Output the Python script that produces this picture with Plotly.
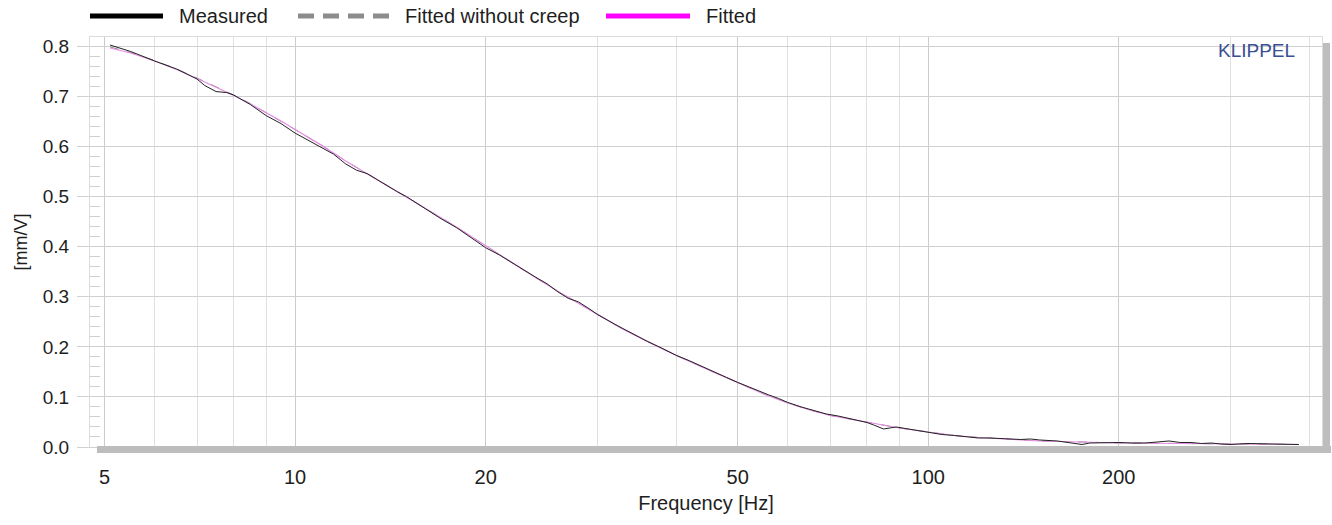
import plotly.graph_objects as go

# ---- data ----
freq_fit = [5.1, 5.5, 6, 6.5, 7, 7.5, 8, 8.5, 9, 9.5, 10, 11, 12, 13, 14, 15, 16, 17, 18, 19,
            20, 22, 24, 26, 28, 30, 33, 36, 40, 45, 50, 55, 60, 65, 70, 75, 80, 90, 100, 110,
            120, 135, 150, 175, 200, 250, 300, 350, 385]
fitted = [0.797, 0.787, 0.771, 0.754, 0.736, 0.719, 0.702, 0.685, 0.668, 0.651, 0.634, 0.603,
          0.572, 0.546, 0.522, 0.500, 0.479, 0.458, 0.439, 0.420, 0.401, 0.368, 0.338, 0.311,
          0.287, 0.265, 0.235, 0.211, 0.183, 0.154, 0.128, 0.106, 0.088, 0.074, 0.063, 0.056,
          0.049, 0.038, 0.030, 0.023, 0.019, 0.015, 0.012, 0.010, 0.008, 0.007, 0.006, 0.005,
          0.005]
fitted_no_creep = [0.799, 0.788, 0.772, 0.755, 0.737, 0.720, 0.703, 0.686, 0.668, 0.651, 0.634,
                   0.603, 0.572, 0.546, 0.522, 0.500, 0.479, 0.458, 0.439, 0.420, 0.401, 0.368,
                   0.338, 0.311, 0.287, 0.265, 0.235, 0.211, 0.183, 0.154, 0.128, 0.106, 0.088,
                   0.074, 0.063, 0.056, 0.049, 0.038, 0.030, 0.023, 0.019, 0.015, 0.012, 0.010,
                   0.008, 0.007, 0.006, 0.005, 0.005]

freq_meas = [5.1, 5.5, 6, 6.5, 7, 7.2, 7.5, 7.8, 8, 8.5, 9, 9.5, 10, 10.5, 11, 11.5, 12, 12.5, 13,
             13.5, 14, 14.5, 15, 16, 17, 18, 19, 20, 21, 22, 23, 24, 25, 26, 27, 28, 29, 30, 32,
             34, 36, 38, 40, 42, 44, 46, 48, 50, 52, 54, 56, 58, 60, 63, 66, 69, 72, 75, 78, 80,
             82, 85, 87, 89, 92, 95, 98, 100, 105, 110, 115, 120, 125, 130, 135, 140, 145, 150,
             160, 170, 175, 180, 190, 200, 210, 220, 230, 240, 250, 260, 270, 280, 290, 300, 320,
             340, 360, 385]
measured = [0.803, 0.790, 0.771, 0.755, 0.735, 0.722, 0.710, 0.708, 0.703, 0.684, 0.662, 0.646,
            0.627, 0.612, 0.598, 0.585, 0.566, 0.553, 0.546, 0.533, 0.522, 0.510, 0.500, 0.477,
            0.456, 0.438, 0.418, 0.398, 0.384, 0.368, 0.352, 0.339, 0.326, 0.310, 0.297, 0.290,
            0.278, 0.265, 0.245, 0.227, 0.211, 0.197, 0.183, 0.172, 0.160, 0.149, 0.139, 0.129,
            0.120, 0.111, 0.104, 0.097, 0.089, 0.080, 0.073, 0.066, 0.062, 0.057, 0.052, 0.049,
            0.044, 0.036, 0.038, 0.040, 0.037, 0.034, 0.031, 0.029, 0.025, 0.023, 0.020, 0.018,
            0.018, 0.017, 0.016, 0.015, 0.016, 0.014, 0.012, 0.008, 0.005, 0.008, 0.009, 0.009,
            0.008, 0.008, 0.010, 0.012, 0.009, 0.009, 0.007, 0.008, 0.006, 0.005, 0.007, 0.006,
            0.006, 0.005]

x_tickvals = [5, 10, 20, 50, 100, 200]
x_ticktext = ["5", "10", "20", "50", "100", "200"]
x_minor_vals = [6, 7, 8, 9, 30, 40, 60, 70, 80, 90, 300, 400]
y_tickvals = [0.0, 0.1, 0.2, 0.3, 0.4, 0.5, 0.6, 0.7, 0.8]
y_ticktext = ["0.0", "0.1", "0.2", "0.3", "0.4", "0.5", "0.6", "0.7", "0.8"]

legend_names = ["Measured", "Fitted without creep", "Fitted"]

FONT = "Liberation Sans, Arial, sans-serif"
TXT = "#1e1e1e"

fig = go.Figure()
fig.add_trace(go.Scatter(x=freq_fit, y=fitted_no_creep, mode="lines", name=legend_names[1],
                         line=dict(color="#8a8a8a", width=1, dash="dash"), showlegend=False))
fig.add_trace(go.Scatter(x=freq_fit, y=fitted, mode="lines", name=legend_names[2],
                         line=dict(color="#e58be5", width=1.2), showlegend=False))
fig.add_trace(go.Scatter(x=freq_meas, y=measured, mode="lines", name=legend_names[0],
                         line=dict(color="#222222", width=1), showlegend=False))

W, H = 1332, 525
ML, MR, MT, MB = 90, 10, 37, 78
pw = W - ML - MR
ph = H - MT - MB

def px(x):
    return (x - ML) / pw

def py(y):
    return (H - MB - y) / ph

shapes = []
annotations = []
# manual legend
leg_y = py(16)
shapes.append(dict(type="line", xref="paper", yref="paper", x0=px(90), x1=px(163),
                   y0=leg_y, y1=leg_y, line=dict(color="#000000", width=5)))
shapes.append(dict(type="line", xref="paper", yref="paper", x0=px(298), x1=px(390),
                   y0=leg_y, y1=leg_y, line=dict(color="#8c8c8c", width=5, dash="16px,9px")))
shapes.append(dict(type="line", xref="paper", yref="paper", x0=px(606), x1=px(690),
                   y0=leg_y, y1=leg_y, line=dict(color="#ff00ff", width=5)))
for name, xs in zip(legend_names, [177, 403, 704]):
    annotations.append(dict(text=name, xref="paper", yref="paper", x=px(xs), y=leg_y,
                            xanchor="left", yanchor="middle", showarrow=False,
                            font=dict(family=FONT, size=20, color=TXT)))
# gray frame bars (bottom and right)
shapes.append(dict(type="line", xref="paper", yref="paper", x0=px(97), x1=px(1331),
                   y0=py(449.5), y1=py(449.5), line=dict(color="#bdbdbd", width=7)))
shapes.append(dict(type="line", xref="paper", yref="paper", x0=px(1326.5), x1=px(1326.5),
                   y0=py(452), y1=py(43), line=dict(color="#bdbdbd", width=7)))
annotations.append(dict(text="KLIPPEL", xref="paper", yref="paper", x=px(1297), y=py(50),
                        xanchor="right", yanchor="middle", showarrow=False,
                        font=dict(family=FONT, size=19, color="#3b4f93")))

fig.update_layout(
    width=W, height=H,
    margin=dict(l=ML, r=MR, t=MT, b=MB),
    paper_bgcolor="white", plot_bgcolor="white",
    font=dict(family=FONT, size=19, color=TXT),
    shapes=shapes, annotations=annotations,
    showlegend=False,
)
fig.update_xaxes(
    type="log", range=[0.676, 2.622],
    tickvals=x_tickvals, ticktext=x_ticktext,
    showgrid=True, gridcolor="#cccccc", gridwidth=1,
    ticks="", ticklabelstandoff=12,
    minor=dict(tickvals=x_minor_vals, showgrid=True, gridcolor="#e0e0e0", gridwidth=1, ticks=""),
    showline=True, linecolor="#dcdcdc", linewidth=1, mirror=True,
    zeroline=False,
    title=dict(text="Frequency [Hz]", font=dict(family=FONT, size=20, color=TXT), standoff=8),
    tickfont=dict(family=FONT, size=20, color=TXT),
)
fig.update_yaxes(
    range=[0.0, 0.819],
    tickvals=y_tickvals, ticktext=y_ticktext,
    showgrid=True, gridcolor="#d0d0d0", gridwidth=1,
    ticks="outside", ticklen=12, tickcolor="#d0d0d0", tickwidth=1,
    ticklabelstandoff=4,
    minor=dict(dtick=0.02, ticks="inside", ticklen=10, tickcolor="#cfcfcf", showgrid=False),
    showline=True, linecolor="#dcdcdc", linewidth=1, mirror=True,
    zeroline=False,
    title=dict(text="[mm/V]", font=dict(family=FONT, size=18, color=TXT), standoff=10),
    tickfont=dict(family=FONT, size=19, color=TXT),
)

fig.write_html("out.html")
